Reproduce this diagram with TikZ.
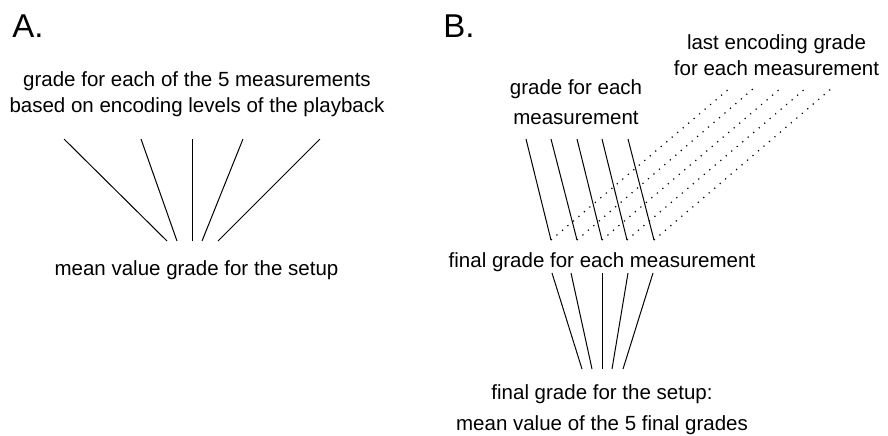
\documentclass[tikz,border=0pt]{standalone}
\usepackage{fontspec}
\setmainfont{Liberation Sans}
\usetikzlibrary{positioning}

\begin{document}
\begin{tikzpicture}[
    x=0.5pt, y=-0.5pt,
    every node/.style={font=\fontsize{10.25}{13}\selectfont, inner sep=0pt, align=center},
    panel/.style={font=\fontsize{16.5}{20}\selectfont, anchor=base west},
    wide/.style={font=\fontsize{10.25}{15}\selectfont},
    link/.style={line width=0.5pt},
    hint/.style={line width=0.6pt, dash pattern=on 0.6pt off 3pt}
]
\useasboundingbox (0,0) rectangle (888,435);
% Panel A
\node[panel] (labA) at (12,37) {A.};
\node (gradeA) at (197,94) {grade for each of the 5 measurements\\based on encoding levels of the playback};
\node (meanA) at (196.5,270) {mean value grade for the setup};
\foreach \i/\xt/\xb in {1/64/167, 2/141/177, 3/192/192, 4/243/202, 5/320/218} {
  \coordinate (at\i) at (\xt,139);
  \coordinate (ab\i) at (\xb,241);
  \draw[link] (at\i) -- (ab\i);
}
% Panel B
\node[panel] (labB) at (443,37) {B.};
\node[wide] (gradeB) at (576,102) {grade for each\\measurement};
\node (lastB) at (776.5,55) {last encoding grade\\for each measurement};
\node (finalB) at (602,262) {final grade for each measurement};
\node[font=\fontsize{10.25}{15.5}\selectfont] (setupB) at (602,409.5) {final grade for the setup:\\mean value of the 5 final grades};
% measurement grades and last encoding grades
\foreach \i/\xt/\xb/\xd in {1/526/551/730, 2/551/577/754, 3/577/602/781, 4/602/627/806, 5/628/654/832} {
  \coordinate (bt\i) at (\xt,139);
  \coordinate (bb\i) at (\xb,240);
  \coordinate (bd\i) at (\xd,88);
  \draw[link] (bt\i) -- (bb\i);
  \draw[hint] (bb\i) -- (bd\i);
}
% final grades to setup grade
\foreach \i/\xt/\xb in {1/552/582, 2/571/592, 3/602/602, 4/628/612, 5/653/623} {
  \coordinate (ft\i) at (\xt,273);
  \coordinate (fb\i) at (\xb,369);
  \draw[link] (ft\i) -- (fb\i);
}
\end{tikzpicture}
\end{document}
